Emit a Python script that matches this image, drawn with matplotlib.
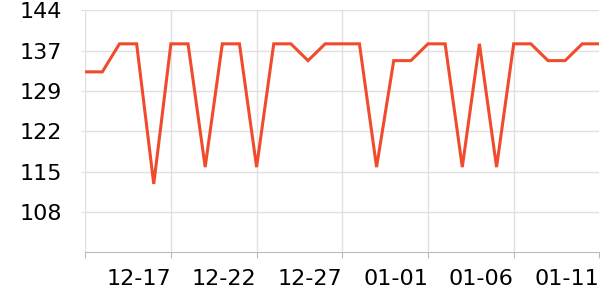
import matplotlib.pyplot as plt
import matplotlib.dates as mdates
import pandas as pd
import numpy as np

dates = pd.date_range('2023-12-12', '2024-01-11', freq='D')
values = [133, 133, 138, 138, 113, 138, 138, 116, 138, 138,
          116, 138, 138, 135, 138, 138, 138, 116, 135, 135,
          138, 138, 116, 138, 116, 138, 138, 135, 135, 138, 138]
y_labels = ['108', '115', '122', '129', '137', '144']
x_ticks = pd.date_range('2023-12-12', '2024-01-11', freq='5D')

fig = plt.figure(figsize=(6, 3), dpi=100)
ax = fig.add_axes([0.142, 0.159, 0.857, 0.807])

ax.plot(dates, values, color='#f04b2c', lw=2.2, solid_joinstyle='miter')

ymin, ymax = 100.8, 144
ax.set_ylim(ymin, ymax)
ax.set_yticks(np.linspace(ymin, ymax, 7)[1:])
ax.set_yticklabels(y_labels)
ax.set_xlim(dates[0], dates[-1])
ax.set_xticks(x_ticks)
ax.xaxis.set_major_formatter(mdates.DateFormatter('%m-%d'))
labels = ax.get_xticklabels()
for lab in labels:
    lab.set_horizontalalignment('right')
labels[0].set_visible(False)

ax.grid(True, color='#e0e0e0', lw=1)
ax.get_xgridlines()[-1].set_visible(False)
for s in ['top', 'right', 'left']:
    ax.spines[s].set_visible(False)
ax.spines['bottom'].set_color('#bbbbbb')
ax.tick_params(axis='y', length=3, color='#e0e0e0', pad=14, labelsize=16)
ax.tick_params(axis='x', length=4, color='#bbbbbb', pad=8, labelsize=16)

fig.savefig('out.png', dpi=100)
